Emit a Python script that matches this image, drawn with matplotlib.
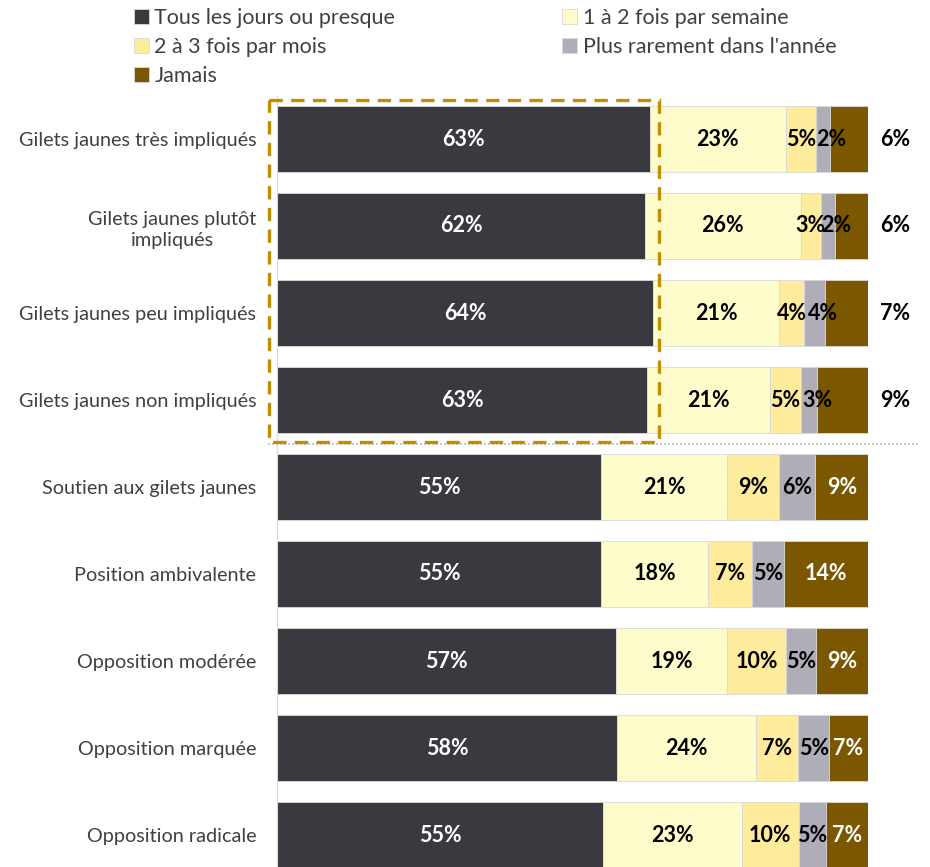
import matplotlib
matplotlib.use("Agg")
import matplotlib.pyplot as plt
from matplotlib.patches import Rectangle

plt.rcParams['font.family'] = ['Lato', 'DejaVu Sans']

categories = [
    "Gilets jaunes très impliqués",
    "Gilets jaunes plutôt\nimpliqués",
    "Gilets jaunes peu impliqués",
    "Gilets jaunes non impliqués",
    "Soutien aux gilets jaunes",
    "Position ambivalente",
    "Opposition modérée",
    "Opposition marquée",
    "Opposition radicale",
]
series_names = ["Tous les jours ou presque", "1 à 2 fois par semaine",
                "2 à 3 fois par mois", "Plus rarement dans l'année", "Jamais"]
tous = [63.1, 62.3, 63.6, 62.6, 54.9, 54.9, 57.3, 57.5, 55.2]
semaine = [23.0, 26.3, 21.4, 20.8, 21.3, 18.1, 18.9, 23.6, 23.4]
mois = [5.1, 3.4, 4.1, 5.3, 8.7, 7.4, 10.0, 7.1, 9.7]
rarement = [2.4, 2.4, 3.6, 2.7, 6.2, 5.4, 5.0, 5.2, 4.6]
jamais = [6.4, 5.6, 7.3, 8.6, 8.9, 14.2, 8.8, 6.6, 7.1]
# rows where the "Jamais" value is written outside the bar
n_outside = 4

colors = ['#3a393f', '#fffccc', '#ffeb9c', '#aeadb8', '#7a5700']
txt_colors = ['white', 'black', 'black', 'black', 'white']

fig = plt.figure(figsize=(9.3, 8.67), dpi=100)
ax = fig.add_axes([277/930, 0, 591/930, 1 - 95.5/867])

y = list(range(len(categories)))
left = [0.0] * len(categories)
for k, vals in enumerate([tous, semaine, mois, rarement, jamais]):
    ax.barh(y, vals, left=left, height=0.77, color=colors[k],
            edgecolor='#d9d9d9', linewidth=0.6, label=series_names[k])
    for i, v in enumerate(vals):
        if k == 4 and i < n_outside:
            ax.text(104.6, i, f"{v:.0f}%", ha='center', va='center',
                    fontsize=15.5, fontweight='bold', color='black', clip_on=False)
        else:
            # small grey segments: label nudged right like in the original
            shift = 1.4 if (k == 3 and i < n_outside) else 0
            ax.text(left[i] + v / 2 + shift, i, f"{v:.0f}%", ha='center', va='center',
                    fontsize=15.5, fontweight='bold', color=txt_colors[k])
    left = [a + b for a, b in zip(left, vals)]

ax.set_xlim(0, 100)
ax.set_ylim(8 + 32/87, -0.5)
ax.set_yticks(y)
ax.set_yticklabels(categories, fontsize=14.3, color='#404040',
                   multialignment='center', linespacing=1.35)
ax.tick_params(axis='y', length=0, pad=15)
ax.set_xticks([])
for s in ['top', 'right', 'bottom']:
    ax.spines[s].set_visible(False)
ax.spines['left'].set_color('#d9d9d9')

# dotted separator and dashed highlight box
ax.plot([-1.5, 108.5], [3.5, 3.5], color='#bfbfbf', linestyle=(0, (1.2, 1.2)),
        linewidth=1.2, clip_on=False, zorder=1)
ax.add_patch(Rectangle((-1.4, -0.45), 66.0, 3.93, fill=False, edgecolor='#bf8f00',
                       linewidth=2.4, linestyle=(0, (4, 2.5)), clip_on=False, zorder=5))

handles, labels = ax.get_legend_handles_labels()
order = [0, 2, 4, 1, 3]
fig.legend([handles[i] for i in order], [labels[i] for i in order],
           loc='upper left', bbox_to_anchor=(121/930, 1.006), ncol=2, frameon=False,
           fontsize=15.5, labelcolor='#404040', handlelength=0.7, handleheight=0.7,
           handletextpad=0.25, columnspacing=7.75, labelspacing=0.42,
           borderaxespad=0.2)

fig.savefig("out.png", dpi=100)
